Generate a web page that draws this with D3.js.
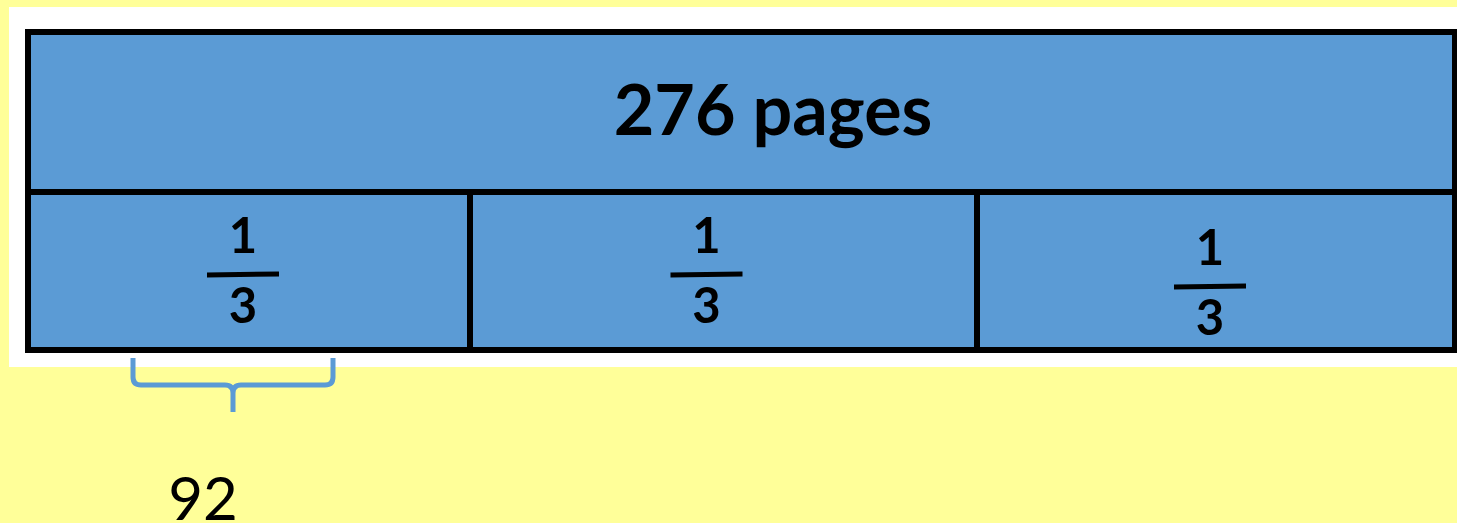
<!DOCTYPE html>
<html lang="en">
<head>
    <meta charset="UTF-8">
    <title>276 pages tape diagram</title>
    <script src="https://d3js.org/d3.v7.min.js"></script>
    <style>
        html, body { margin: 0; padding: 0; background: #ffff99; overflow: hidden; }
        svg { display: block; }
    </style>
</head>
<body>
    <svg id="main"></svg>
    <script>
        // data
        const totalLabel = "276 pages"
        const parts = ["part1", "part2", "part3"]
        const numerators = ["1", "1", "1"]
        const denominators = ["3", "3", "3"]
        const partValue = "92"

        const width = 1457, height = 523
        const blue = "#5b9bd5"

        const svg = d3.select("#main").attr("width", width).attr("height", height)

        // white panel behind the tape
        svg.append("rect")
            .attr("x", 9).attr("y", 7)
            .attr("width", width - 9).attr("height", 360)
            .attr("fill", "#fff")

        // cell edges, the reference cells are not quite equal
        const x = d3.scaleLinear().domain([0, 1, 2, 3]).range([28, 470, 977, 1455])
        const yTop = 32, yMid = 192, yBottom = 350
        const labelNudge = [{dx: -6, dy: 0}, {dx: -17, dy: 0}, {dx: -6, dy: 12}]

        const g = svg.append("g")

        // top bar
        g.append("rect")
            .attr("x", x(0)).attr("y", yTop)
            .attr("width", x(parts.length) - x(0)).attr("height", yMid - yTop)
            .attr("fill", blue)

        // lower cells
        g.selectAll(".cell")
            .data(parts)
            .join("rect")
            .attr("class", "cell")
            .attr("x", (d, i) => x(i)).attr("y", yMid)
            .attr("width", (d, i) => x(i + 1) - x(i)).attr("height", yBottom - yMid)
            .attr("fill", blue)

        // borders
        g.append("rect")
            .attr("x", x(0)).attr("y", yTop)
            .attr("width", x(parts.length) - x(0)).attr("height", yBottom - yTop)
            .attr("fill", "none").attr("stroke", "#000").attr("stroke-width", 6)
        g.append("line")
            .attr("x1", x(0)).attr("x2", x(parts.length))
            .attr("y1", yMid).attr("y2", yMid)
            .attr("stroke", "#000").attr("stroke-width", 6)
        g.selectAll(".divider")
            .data(parts.slice(1))
            .join("line")
            .attr("class", "divider")
            .attr("x1", (d, i) => x(i + 1)).attr("x2", (d, i) => x(i + 1))
            .attr("y1", yMid).attr("y2", yBottom)
            .attr("stroke", "#000").attr("stroke-width", 6)

        // total label
        g.append("text")
            .attr("x", 773).attr("y", 135)
            .attr("text-anchor", "middle")
            .attr("font-family", "Lato, 'Open Sans', sans-serif")
            .attr("font-weight", "bold")
            .attr("font-size", 70)
            .attr("fill", "#000")
            .text(totalLabel)

        // fractions
        const frac = g.selectAll(".frac")
            .data(parts)
            .join("g")
            .attr("class", "frac")
            .attr("transform", (d, i) => "translate(" + (x(i + 0.5) + labelNudge[i].dx) + "," + labelNudge[i].dy + ")")
        frac.append("text")
            .attr("y", 253)
            .attr("text-anchor", "middle")
            .attr("font-family", "Lato, 'Open Sans', sans-serif")
            .attr("font-weight", "bold")
            .attr("font-size", 49)
            .text((d, i) => numerators[i])
        frac.append("line")
            .attr("x1", -36).attr("x2", 36)
            .attr("y1", 275).attr("y2", 274)
            .attr("stroke", "#000").attr("stroke-width", 5)
        frac.append("text")
            .attr("y", 323)
            .attr("text-anchor", "middle")
            .attr("font-family", "Lato, 'Open Sans', sans-serif")
            .attr("font-weight", "bold")
            .attr("font-size", 49)
            .text((d, i) => denominators[i])

        // brace under the first cell
        const bx0 = 133, bx1 = 333, bTop = 358, bLine = 385, bStem = 412
        const bMid = (bx0 + bx1) / 2
        const r = 8
        const brace = d3.path()
        brace.moveTo(bx0, bTop)
        brace.lineTo(bx0, bLine - r)
        brace.quadraticCurveTo(bx0, bLine, bx0 + r, bLine)
        brace.lineTo(bMid - r, bLine)
        brace.quadraticCurveTo(bMid, bLine, bMid, bLine + r)
        brace.lineTo(bMid, bStem)
        brace.moveTo(bMid, bLine + r)
        brace.quadraticCurveTo(bMid, bLine, bMid + r, bLine)
        brace.lineTo(bx1 - r, bLine)
        brace.quadraticCurveTo(bx1, bLine, bx1, bLine - r)
        brace.lineTo(bx1, bTop)
        svg.append("path")
            .attr("d", brace.toString())
            .attr("fill", "none")
            .attr("stroke", blue)
            .attr("stroke-width", 5)

        svg.append("text")
            .attr("x", 203).attr("y", 520)
            .attr("text-anchor", "middle")
            .attr("font-family", "Lato, 'Open Sans', sans-serif")
            .attr("font-size", 60)
            .attr("fill", "#000")
            .text(partValue)
    </script>
</body>
</html>
